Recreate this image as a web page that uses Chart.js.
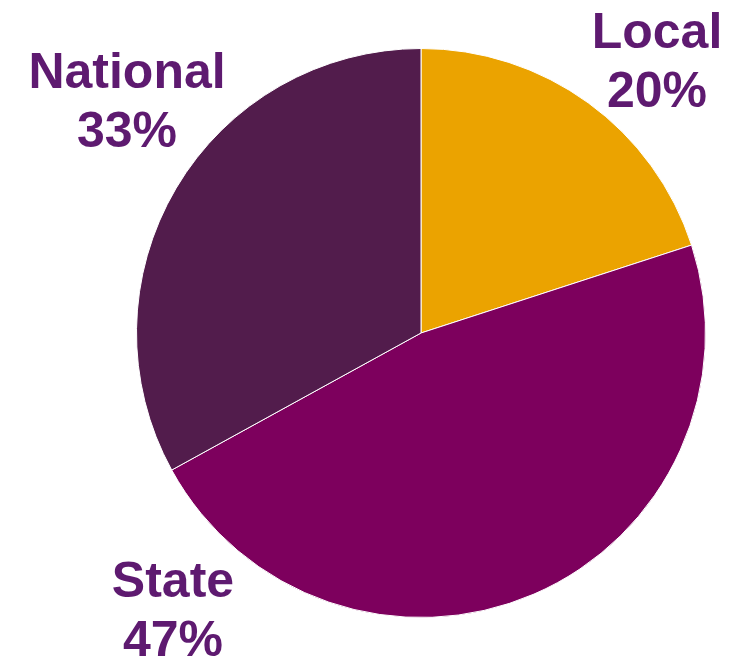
<!DOCTYPE html>
<html>
<head>
<meta charset="utf-8">
<script src="https://cdn.jsdelivr.net/npm/chart.js@4"></script>
<style>
  html, body { margin: 0; padding: 0; background: #fff; }
  #wrap { width: 754px; height: 656px; }
</style>
</head>
<body>
<div id="wrap"><canvas id="pieChart" width="754" height="656"></canvas></div>
<script>
var labels = ['Local', 'State', 'National'];
var shares = [20, 47, 33];
var colors = ['#EBA300', '#7D005D', '#521C4C'];

// where each outside label block sits (centre x, first baseline y)
var labelPos = [
    { x: 657, y: 48 },
    { x: 173, y: 597 },
    { x: 127, y: 88 }
];

var outsideLabels = {
    id: 'outsideLabels',
    afterDraw: function (chart) {
        var ctx = chart.ctx;
        ctx.save();
        ctx.fillStyle = '#5E1A70';
        ctx.font = 'bold 50px "Liberation Sans", Arial, sans-serif';
        ctx.textAlign = 'center';
        ctx.textBaseline = 'alphabetic';
        labels.forEach(function (name, i) {
            var p = labelPos[i];
            ctx.fillText(name, p.x, p.y);
            ctx.fillText(shares[i] + '%', p.x, p.y + 59);
        });
        ctx.restore();
    }
};

var ctx = document.getElementById('pieChart').getContext('2d');
var pieChart = new Chart(ctx, {
    type: 'pie',
    data: {
        labels: labels,
        datasets: [{
            data: shares,
            backgroundColor: colors,
            borderColor: '#ffffff',
            borderWidth: 1
        }]
    },
    options: {
        responsive: false,
        animation: false,
        layout: {
            padding: { top: 48, bottom: 38, left: 136, right: 48 }
        },
        plugins: {
            legend: { display: false },
            tooltip: { enabled: false }
        }
    },
    plugins: [outsideLabels]
});
</script>
</body>
</html>
